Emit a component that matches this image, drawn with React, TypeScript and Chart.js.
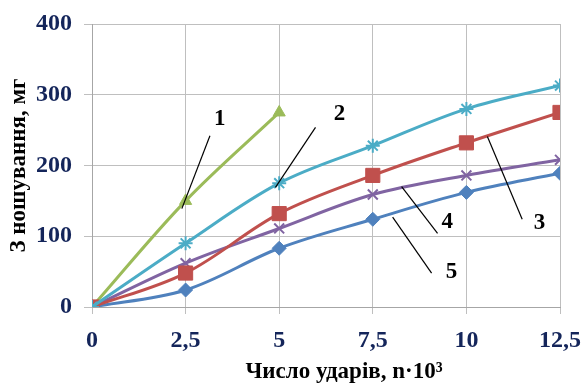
import React, { useEffect, useRef } from "react";
import { Chart, registerables } from "chart.js";

Chart.register(...registerables);

const xValues = [0, 2.5, 5, 7.5, 10, 12.5];
const series1 = [0, 150, 275];
const series2 = [0, 90, 175, 228, 280, 313];
const series3 = [0, 48, 132, 186, 232, 275];
const series4 = [0, 62, 111, 159, 186, 208];
const series5 = [0, 24, 83, 124, 162, 189];

const seriesNames = ["1", "2", "3", "4", "5"];
const seriesColors = ["#9BBB59", "#4BACC6", "#C0504D", "#8064A2", "#4F81BD"];

// annotation labels and leader lines, in data units
const annotLabels = ["1", "2", "3", "4", "5"];
const annotText = [
  [3.41, 266],
  [6.61, 273],
  [11.95, 118],
  [9.49, 120],
  [9.6, 49],
];
const annotLines = [
  [3.15, 242, 2.4, 139],
  [5.97, 254, 4.9, 169],
  [10.56, 241, 11.49, 124],
  [8.27, 170, 9.23, 104],
  [8.03, 127, 9.07, 48],
];

const xTitle = "Число ударів, n·10³";
const yTitle = "З ношування, мг";

const SERIF = "'Liberation Serif', 'Times New Roman', serif";
const TICK_COLOR = "#14255A";

const toPoints = (ys: number[]) => ys.map((y, i) => ({ x: xValues[i], y }));

const annotPlugin = {
  id: "annot",
  afterDatasetsDraw(chart: any) {
    const { ctx, scales } = chart;
    const xs = scales.x;
    const ys = scales.y;
    ctx.save();
    ctx.strokeStyle = "#000";
    ctx.lineWidth = 1.2;
    annotLines.forEach((l) => {
      ctx.beginPath();
      ctx.moveTo(xs.getPixelForValue(l[0]), ys.getPixelForValue(l[1]));
      ctx.lineTo(xs.getPixelForValue(l[2]), ys.getPixelForValue(l[3]));
      ctx.stroke();
    });
    ctx.fillStyle = "#000";
    ctx.font = `bold 23px ${SERIF}`;
    ctx.textAlign = "center";
    ctx.textBaseline = "middle";
    annotLabels.forEach((t, i) => {
      ctx.fillText(t, xs.getPixelForValue(annotText[i][0]), ys.getPixelForValue(annotText[i][1]));
    });
    ctx.font = `bold 23px ${SERIF}`;
    ctx.fillText(xTitle, (chart.chartArea.left + chart.chartArea.right) / 2 + 18, 372);
    ctx.restore();
  },
};

export default function App() {
  const ref = useRef<HTMLCanvasElement>(null);
  useEffect(() => {
    if (!ref.current) return;
    const pointStyles = ["triangle", "star", "rect", "crossRot", "rectRot"];
    const radii = [7, 7, 10, 7, 7];
    const orders = [5, 1, 2, 3, 4];
    const all = [series1, series2, series3, series4, series5];
    const datasets = all.map((s, i) => ({
      label: seriesNames[i],
      data: toPoints(s),
      order: orders[i],
      borderColor: seriesColors[i],
      backgroundColor: seriesColors[i],
      borderWidth: 3,
      pointStyle: pointStyles[i],
      pointRadius: radii[i],
      pointBorderWidth: i === 1 || i === 3 ? 2 : 1,
      pointBorderColor: seriesColors[i],
      tension: 0.35,
    }));
    const chart = new Chart(ref.current, {
      type: "line",
      data: { datasets: datasets as any },
      options: {
        animation: false,
        responsive: false,
        layout: { padding: { top: 24, right: 28, left: 0, bottom: 0 } },
        plugins: { legend: { display: false }, tooltip: { enabled: false } },
        scales: {
          x: {
            type: "linear",
            min: 0,
            max: 12.5,
            afterFit: (s: any) => {
              s.height = 76;
              s.paddingLeft = 0;
              s.paddingRight = 0;
            },
            ticks: {
              stepSize: 2.5,
              padding: 12,
              color: TICK_COLOR,
              font: { family: SERIF, size: 24, weight: "bold" },
              callback: (v: any) => String(v).replace(".", ","),
              maxRotation: 0,
            },
            grid: { color: "#BFBFBF", tickLength: 7, lineWidth: 1 },
            border: { color: "#A6A6A6" },
          },
          y: {
            min: 0,
            max: 400,
            afterFit: (s: any) => {
              s.width = 92;
              s.paddingTop = 0;
              s.paddingBottom = 0;
            },
            ticks: {
              stepSize: 100,
              padding: 12,
              color: TICK_COLOR,
              font: { family: SERIF, size: 24, weight: "bold" },
            },
            grid: { color: "#BFBFBF", tickLength: 8, lineWidth: 1 },
            border: { color: "#A6A6A6" },
            title: {
              display: true,
              text: yTitle,
              color: "#000",
              font: { family: SERIF, size: 23, weight: "bold" },
              padding: { top: 5, bottom: 0 },
            },
          },
        },
      },
      plugins: [annotPlugin],
    });
    return () => chart.destroy();
  }, []);
  return (
    <div style={{ position: "fixed", left: 0, top: 0, width: 588, height: 383, background: "#fff" }}>
      <canvas ref={ref} width={588} height={383} style={{ width: 588, height: 383 }} />
    </div>
  );
}
